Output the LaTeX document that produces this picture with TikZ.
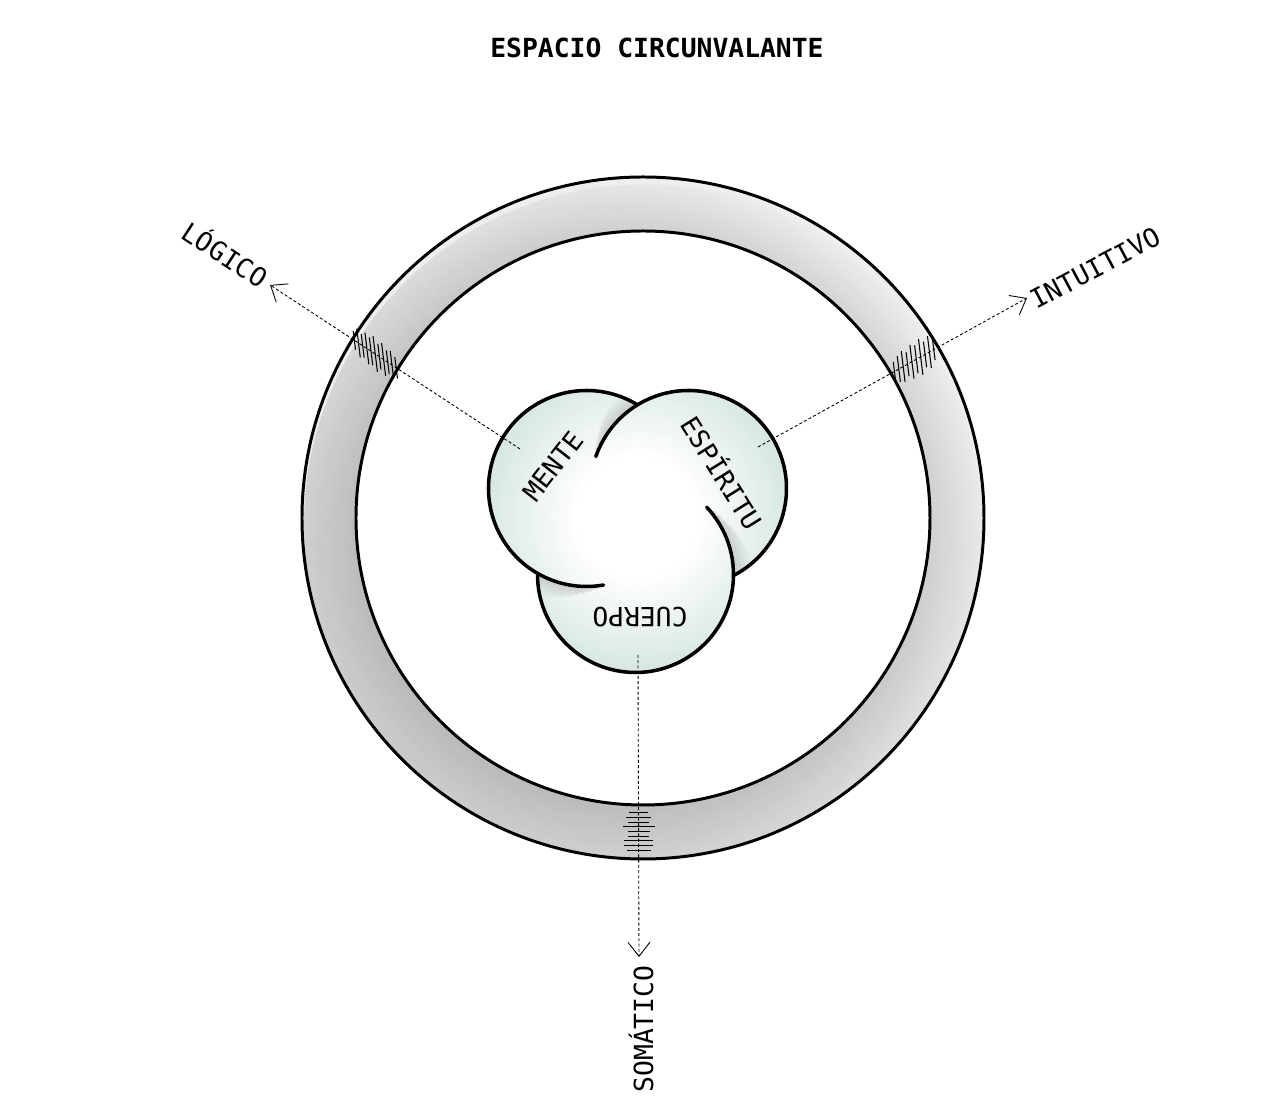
\documentclass[tikz,border=0pt]{standalone}
\usepackage{fontspec}
\setmonofont{DejaVu Sans Mono}
\usetikzlibrary{arrows.meta,calc,fadings}

\definecolor{lobe}{RGB}{210,228,222}
\definecolor{ringin}{gray}{0.84}
\definecolor{ringout}{gray}{0.94}

\pgfdeclareradialshading{ringshade}{\pgfpoint{0bp}{0bp}}{color(0bp)=(white); color(20.9bp)=(ringin); color(25bp)=(ringout); color(50bp)=(ringout)}
\pgfdeclareradialshading{lobeshade}{\pgfpoint{0bp}{0bp}}{color(0bp)=(white); color(9bp)=(white); color(25bp)=(lobe); color(50bp)=(lobe)}
\tikzfading[name=ringfade, left color=transparent!0, right color=transparent!100]

\begin{document}
\begin{tikzpicture}
                \tikzset{x=0.2mm, y=0.2mm}
                \tikzstyle{ringline}=[line width=1.7pt]
                \tikzstyle{lobeline}=[line width=2pt, line cap=round]
                \tikzstyle{probe}=[line width=0.5pt, dash pattern=on 0.6mm off 0.45mm, -{Straight Barb[length=2.8mm, width=4.4mm]}]
                \tikzstyle{tick}=[line width=0.6pt]
                \tikzstyle{axistext}=[inner sep=0pt, font=\fontsize{15}{18}\selectfont\ttfamily]
                \tikzstyle{titletext}=[inner sep=0pt, font=\fontsize{15}{18}\selectfont\ttfamily\bfseries]

                \useasboundingbox (-643,-601) rectangle (637,518);

                % ring
                \begin{scope}[even odd rule]
                    \clip (0,0) circle (341) (0,0) circle (287);
                    \shade[shading=ringshade] (0,0) circle (341);
                    \fill[black, opacity=0.15, path fading=ringfade, fading angle=45] (0,0) circle (341);
                \end{scope}
                \draw[ringline] (0,0) circle (341) (0,0) circle (287);

                \coordinate (cm) at (-56.5, 29.5);
                \coordinate (ce) at (45.5, 29.5);
                \coordinate (cc) at (-7.5, -56.5);

                % lobes
                \begin{scope}
                    \clip (cm) circle (98) (ce) circle (98) (cc) circle (98);
                    \shade[shading=lobeshade] (-6,1) circle (165);
                    \foreach \c/\a/\b in {ce/121.4/161, cm/240/280, cc/-0.6/43.4}
                        \foreach \k in {2,4,...,16}
                            \draw[line width=0.7mm, black, opacity={0.09*(1-\k/18)}] ($(\c)+(\a:{98+\k})$) arc[start angle=\a, delta angle={(\b-\a)*(1-\k/22)}, radius={98+\k}];
                \end{scope}
                \draw[lobeline] ($(cm)+(58.6:98)$) arc[start angle=58.6, end angle=280, radius=98];
                \draw[lobeline] ($(ce)+(-62.7:98)$) arc[start angle=-62.7, end angle=161, radius=98];
                \draw[lobeline] ($(cc)+(179.4:98)$) arc[start angle=179.4, end angle=403.4, radius=98];

                \draw (14, 470)     node[titletext]             (title)     {ESPACIO CIRCUNVALANTE};

                \draw (-90, 52)     node[axistext, rotate=52]   (mente)     {MENTE};
                \draw (80, 46)      node[axistext, rotate=-58]  (espiritu)  {ESPÍRITU};
                \draw (-3, -99)     node[axistext, rotate=180]  (cuerpo)    {CUERPO};

                \draw (-417, 265)   node[axistext, rotate=-33]  (logico)    {LÓGICO};
                \draw (452, 250)    node[axistext, rotate=28]   (intuitivo) {INTUITIVO};
                \draw (-2, -511)    node[axistext, rotate=90]   (somatico)  {SOMÁTICO};

                \coordinate (mente-in)       at (-123, 69);
                \coordinate (logico-tip)     at (-373, 233);
                \coordinate (espiritu-in)    at (115, 71);
                \coordinate (intuitivo-tip)  at (384, 220);
                \coordinate (cuerpo-in)      at (-5, -137);
                \coordinate (somatico-tip)   at (-4, -439);

                \draw[probe] (mente-in) -- (logico-tip);
                \draw[probe] (espiritu-in) -- (intuitivo-tip);
                \draw[probe] (cuerpo-in) -- (somatico-tip);

                % hatches on the ring
                \coordinate (logico-cut)    at ($(mente-in)!0.579!(logico-tip)$);
                \coordinate (intuitivo-cut) at ($(espiritu-in)!0.582!(intuitivo-tip)$);
                \coordinate (somatico-cut)  at ($(cuerpo-in)!0.586!(somatico-tip)$);

                \foreach \d/\l in {-25/22, -20/28, -15/24, -10/33, -5/26, 0/36, 5/28, 10/32, 15/24, 20/29, 25/19}
                    \draw[tick] ($(logico-cut)+(146.7:\d)$) +(97:{\l/2}) -- +(277:{\l/2});
                \foreach \d/\l in {-23/19, -18/26, -13/31, -8/24, -3/34, 2/28, 7/36, 12/26, 17/32, 22/21}
                    \draw[tick] ($(intuitivo-cut)+(29:\d)$) +(97:{\l/2}) -- +(277:{\l/2});
                \foreach \d/\l in {-19/19, -14/25, -9/21, -5/32, 0/22, 5/21, 9/29, 14/29, 19/24}
                    \draw[tick] ($(somatico-cut)+(-90:\d)$) +(0:{\l/2}) -- +(180:{\l/2});
\end{tikzpicture}
\end{document}
